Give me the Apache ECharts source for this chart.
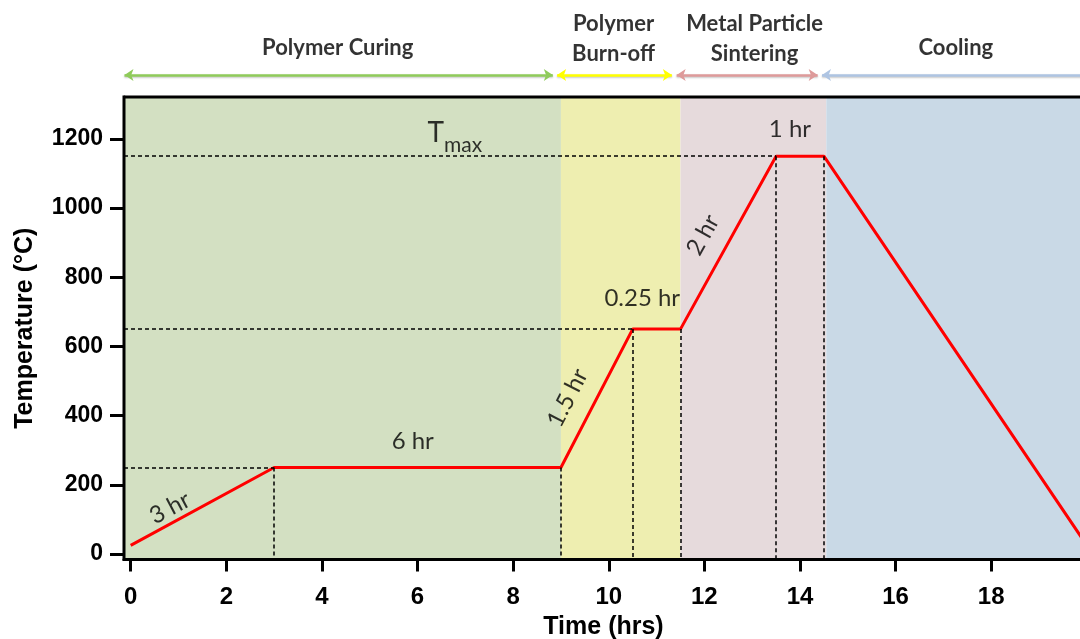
<!DOCTYPE html>
<html><head><meta charset="utf-8">
<script src="https://cdn.jsdelivr.net/npm/echarts@6/dist/echarts.min.js"></script>
<style>html,body{margin:0;padding:0;background:#fff}#c{width:1080px;height:639px}</style>
</head><body><div id="c"></div>
<script>
// ---- data ----
const profileTime = [0, 3, 9, 10.5, 11.5, 13.5, 14.5, 20];
const profileTemp = [25, 250, 250, 650, 650, 1150, 1150, 25];
const guideHTime = [3, 10.5, 13.5];
const guideHTemp = [250, 650, 1150];
const guideVTime = [3, 9, 10.5, 11.5, 13.5, 14.5];
const guideVTemp = [250, 250, 650, 650, 1150, 1150];
const phaseNames = ['Polymer Curing', 'Polymer\nBurn-off', 'Metal Particle\nSintering', 'Cooling'];
const phaseStart = [-0.14, 9, 11.5, 14.55];
const phaseEnd = [9, 11.5, 14.55, 19.92];
const arrowStart = [-0.13, 8.92, 11.42, 14.46];
const arrowEnd = [8.83, 11.32, 14.37, 19.92];
const phaseLabelX = [4.33, 10.1, 13.05, 17.26];
const annoText = ['3 hr', '6 hr', '1.5 hr', '0.25 hr', '2 hr', '1 hr', 'T_max'];
const annoTime = [0.82, 5.9, 9.14, 10.7, 11.97, 13.79, 6.78];
const annoTemp = [133, 327, 451, 740, 922, 1228, 1210];
const annoRotate = [28, 0, 63, 0, 61, 0, 0];
const xMajorTicks = [0, 2, 4, 6, 8, 10, 12, 14, 16, 18];
const xMinorTicks = [1, 3, 5, 7, 9, 11, 13, 15, 17, 19];
const yTicks = [0, 200, 400, 600, 800, 1000, 1200];

// ---- styles ----
const X_MIN = -0.14, X_MAX = 19.92, Y_MIN = -16, Y_MAX = 1321;
const bandColors = ['#d3e0c2', '#eeeeb0', '#e6dadc', '#c9d9e6'];
const arrowColors = ['#8fcb5a', '#ffff00', '#de9a9a', '#aec4e2'];
const tickFont = { fontFamily: 'Liberation Sans, Arial, sans-serif', fontWeight: 'bold', fontSize: 24, color: '#000' };
const annoFont = 'Lato, "Open Sans", sans-serif';

const chart = echarts.init(document.getElementById('c'), null, { renderer: 'canvas' });

const profile = profileTime.map((t, i) => [t, profileTemp[i]]);
const guides = [];
guideHTime.forEach((t, i) => guides.push([{ coord: [X_MIN, guideHTemp[i]] }, { coord: [t, guideHTemp[i]] }]));
guideVTime.forEach((t, i) => guides.push([{ coord: [t, guideVTemp[i]] }, { coord: [t, Y_MIN] }]));
const bands = phaseStart.map((s, i) => [{ xAxis: s, itemStyle: { color: bandColors[i] } }, { xAxis: phaseEnd[i] }]);
const annos = annoText.map((txt, i) => ({
  value: [annoTime[i], annoTemp[i]],
  label: {
    rotate: annoRotate[i],
    formatter: txt === 'T_max' ? '{t|T}{s|max}' : txt
  }
}));
const arrows = arrowStart.map((s, i) => [
  { coord: [s, 75], lineStyle: { color: arrowColors[i] } },
  { coord: [arrowEnd[i], 75], symbol: i === arrowStart.length - 1 ? 'none' : 'arrow' }
]);
const phaseLabels = phaseNames.map((n, i) => [phaseLabelX[i], n.indexOf('\n') >= 0 ? 39 : 48, n]);

chart.setOption({
  animation: false,
  grid: [
    { left: 124, right: -3, top: 97, bottom: 79.5, show: true, borderColor: '#000', borderWidth: 3, backgroundColor: 'transparent', z: 10, outerBoundsMode: 'none', containLabel: false },
    { left: 124, right: -3, top: 0, height: 97, outerBoundsMode: 'none', containLabel: false }
  ],
  xAxis: [
    {
      type: 'value', gridIndex: 0, min: X_MIN, max: X_MAX,
      name: 'Time (hrs)', nameLocation: 'middle', nameGap: 49,
      nameTextStyle: Object.assign({}, tickFont, { fontSize: 25 }),
      axisLine: { show: true, onZero: false, lineStyle: { color: '#000', width: 3 } },
      axisTick: { show: true, customValues: xMajorTicks, length: 12, lineStyle: { color: '#000', width: 3 } },
      axisLabel: Object.assign({ customValues: xMajorTicks, margin: 26, formatter: v => String(v) }, tickFont),
      splitLine: { show: false }
    },
    {
      type: 'value', gridIndex: 0, min: X_MIN, max: X_MAX,
      axisLine: { show: false },
      axisTick: { show: true, customValues: xMinorTicks, length: 6, lineStyle: { color: '#000', width: 3 } },
      axisLabel: { show: false },
      splitLine: { show: false }
    },
    { type: 'value', gridIndex: 1, min: X_MIN, max: X_MAX, show: false }
  ],
  yAxis: [
    {
      type: 'value', gridIndex: 0, min: Y_MIN, max: Y_MAX,
      name: 'Temperature (°C)', nameLocation: 'middle', nameGap: 86, nameRotate: 90,
      nameTextStyle: Object.assign({}, tickFont, { fontSize: 25 }),
      axisLine: { show: true, onZero: false, lineStyle: { color: '#000', width: 3 } },
      axisTick: { show: true, customValues: yTicks, length: 14, lineStyle: { color: '#000', width: 3 } },
      axisLabel: Object.assign({ customValues: yTicks, margin: 21, formatter: v => String(v) }, tickFont, { fontSize: 23 }),
      splitLine: { show: false }
    },
    { type: 'value', gridIndex: 1, min: 0, max: 97, inverse: true, show: false }
  ],
  series: [
    {
      type: 'line', xAxisIndex: 0, yAxisIndex: 0, data: [], silent: true, z: 1,
      markArea: { silent: true, data: bands }
    },
    {
      type: 'line', xAxisIndex: 0, yAxisIndex: 0, data: [], silent: true, z: 3,
      markLine: {
        silent: true, symbol: ['none', 'none'], label: { show: false },
        lineStyle: { color: '#000', width: 1.5, type: [4, 3] },
        data: guides
      }
    },
    {
      type: 'line', xAxisIndex: 0, yAxisIndex: 0, data: profile, z: 4,
      symbol: 'none', lineStyle: { color: '#ff0000', width: 3 }, clip: true
    },
    {
      type: 'scatter', xAxisIndex: 0, yAxisIndex: 0, data: annos, symbolSize: 0, z: 5, clip: false,
      label: {
        show: true, position: 'inside', align: 'center', verticalAlign: 'middle',
        fontFamily: annoFont, fontSize: 24, color: '#000',
        rich: {
          t: { fontFamily: annoFont, fontSize: 28, lineHeight: 40, color: '#000', verticalAlign: 'bottom', padding: [0, 0, 8, 0] },
          s: { fontFamily: annoFont, fontSize: 21, lineHeight: 22, color: '#000', verticalAlign: 'bottom' }
        }
      }
    },
    {
      type: 'scatter', xAxisIndex: 2, yAxisIndex: 1, symbolSize: 0, clip: false,
      data: phaseLabels,
      label: {
        show: true, position: 'inside', align: 'center', verticalAlign: 'middle',
        formatter: p => p.data[2],
        fontFamily: annoFont, fontWeight: 'bold', fontSize: 22, lineHeight: 30, color: '#000'
      },
      markLine: {
        silent: true, symbol: ['arrow', 'arrow'], symbolSize: [9, 9], label: { show: false },
        lineStyle: { width: 2.5, type: 'solid', shadowColor: 'rgba(0,0,0,0.25)', shadowBlur: 2, shadowOffsetY: 1 },
        data: arrows
      }
    }
  ]
});
</script>
</body></html>
